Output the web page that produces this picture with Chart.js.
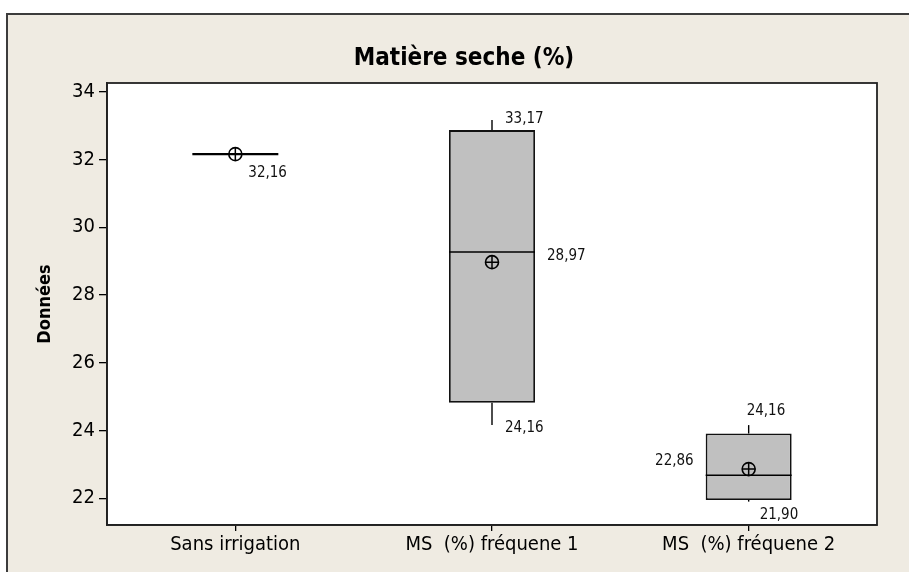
<!DOCTYPE html>
<html>
<head>
<meta charset="utf-8">
<script src="https://cdn.jsdelivr.net/npm/chart.js@4.4.1/dist/chart.umd.min.js"></script>
<style>
  html, body { margin: 0; padding: 0; background: #ffffff; }
  #wrap { width: 909px; height: 572px; }
</style>
</head>
<body>
<div id="wrap"><canvas id="chart" width="909" height="572"></canvas></div>
<script>
// Box plot summary per group (percent dry matter)
const categories = ['Sans irrigation', 'MS  (%) fréquene 1', 'MS  (%) fréquene 2'];
const minValues    = [32.16, 24.16, 21.90];
const q1Values     = [32.16, 24.82, 21.95];
const medianValues = [32.16, 29.27, 22.68];
const q3Values     = [32.16, 32.87, 23.91];
const maxValues    = [32.16, 33.17, 24.16];
const meanValues   = [32.16, 28.97, 22.86];
const yTicks = [22, 24, 26, 28, 30, 32, 34];
const yMin = 21.21;
const yMax = 34.26;

const FAMILY = '"DejaVu Sans Condensed", "DejaVu Sans", sans-serif';
const fmt = v => v.toFixed(2).replace('.', ',');

// Which summary values get a printed label, and where it sits relative to the mark
const labelSpecs = [
  { i: 0, values: meanValues, anchor: 'center',   dx: 13,  dy: 17,  align: 'left'  },
  { i: 1, values: maxValues,  anchor: 'center',   dx: 13,  dy: -2,  align: 'left'  },
  { i: 1, values: meanValues, anchor: 'boxRight', dx: 12,  dy: -8,  align: 'left'  },
  { i: 1, values: minValues,  anchor: 'center',   dx: 13,  dy: 1,   align: 'left'  },
  { i: 2, values: maxValues,  anchor: 'center',   dx: -2,  dy: -16, align: 'left'  },
  { i: 2, values: meanValues, anchor: 'boxLeft',  dx: -12, dy: -10, align: 'right' },
  { i: 2, values: minValues,  anchor: 'center',   dx: 11,  dy: 12,  align: 'left'  }
];

const BOX_DATASET = 2;

// Beige panel, outer frame and title
const framePlugin = {
  id: 'frame',
  beforeDraw(chart) {
    const ctx = chart.ctx, a = chart.chartArea;
    ctx.save();
    ctx.fillStyle = '#ffffff';
    ctx.fillRect(0, 0, chart.width, chart.height);
    ctx.fillStyle = '#EFEBE2';
    ctx.fillRect(7, 14, chart.width - 7, chart.height - 14);
    ctx.strokeStyle = '#3c3c3c';
    ctx.lineWidth = 2;
    ctx.beginPath();
    ctx.moveTo(7, chart.height);
    ctx.lineTo(7, 14);
    ctx.lineTo(chart.width, 14);
    ctx.stroke();
    ctx.fillStyle = '#ffffff';
    ctx.fillRect(a.left, a.top, a.right - a.left, a.bottom - a.top);
    ctx.fillStyle = '#000000';
    ctx.font = 'bold 24px ' + FAMILY;
    ctx.textAlign = 'center';
    ctx.textBaseline = 'alphabetic';
    ctx.fillText('Matière seche (%)', 464, 65);
    ctx.restore();
  },
  afterDraw(chart) {
    const ctx = chart.ctx, a = chart.chartArea;
    ctx.save();
    ctx.strokeStyle = '#222222';
    ctx.lineWidth = 1.8;
    ctx.strokeRect(a.left, a.top, a.right - a.left, a.bottom - a.top);
    ctx.restore();
  }
};

// Whiskers, medians and value labels
const boxPartsPlugin = {
  id: 'boxParts',
  afterDatasetsDraw(chart) {
    const ctx = chart.ctx, xs = chart.scales.x, ys = chart.scales.y;
    const bars = chart.getDatasetMeta(BOX_DATASET).data;
    const seg = (x1, y1, x2, y2) => { ctx.beginPath(); ctx.moveTo(x1, y1); ctx.lineTo(x2, y2); ctx.stroke(); };
    ctx.save();
    ctx.strokeStyle = '#000000';
    categories.forEach((c, i) => {
      const cx = xs.getPixelForValue(i);
      const half = bars[i].width / 2;
      ctx.lineWidth = 1.4;
      seg(cx, ys.getPixelForValue(q3Values[i]), cx, ys.getPixelForValue(maxValues[i]));
      seg(cx, ys.getPixelForValue(q1Values[i]), cx, ys.getPixelForValue(minValues[i]));
      ctx.lineWidth = q1Values[i] === q3Values[i] ? 2.4 : 1.6;
      const my = ys.getPixelForValue(medianValues[i]);
      seg(cx - half, my, cx + half, my);
    });
    ctx.fillStyle = '#111111';
    ctx.font = '15px ' + FAMILY;
    ctx.textBaseline = 'alphabetic';
    labelSpecs.forEach(s => {
      const cx = xs.getPixelForValue(s.i);
      const half = bars[s.i].width / 2;
      let ax = cx;
      if (s.anchor === 'boxRight') ax = cx + half;
      if (s.anchor === 'boxLeft') ax = cx - half;
      const v = s.values[s.i];
      const py = ys.getPixelForValue(v);
      ctx.textAlign = s.align;
      ctx.fillText(fmt(v), ax + s.dx, py + s.dy + 5.5);
    });
    ctx.restore();
  }
};

new Chart(document.getElementById('chart'), {
  type: 'bar',
  data: {
    labels: categories,
    datasets: [
      {
        type: 'line',
        label: 'Moyenne',
        data: meanValues,
        showLine: false,
        pointStyle: 'cross',
        pointRadius: 6.5,
        pointBorderWidth: 1.5,
        pointBorderColor: '#000000',
        order: 0
      },
      {
        type: 'line',
        label: 'Moyenne cercle',
        data: meanValues,
        showLine: false,
        pointStyle: 'circle',
        pointRadius: 6.5,
        pointBorderWidth: 1.6,
        pointBorderColor: '#000000',
        pointBackgroundColor: 'rgba(0,0,0,0)',
        order: 1
      },
      {
        label: 'Boîte',
        data: categories.map((c, i) => [q1Values[i], q3Values[i]]),
        backgroundColor: '#C0C0C0',
        borderColor: '#111111',
        borderWidth: 1.8,
        borderSkipped: false,
        barPercentage: 0.335,
        categoryPercentage: 1,
        order: 2
      }
    ]
  },
  options: {
    responsive: false,
    animation: false,
    devicePixelRatio: 1,
    layout: { padding: { top: 83, right: 32, bottom: 0, left: 0 } },
    plugins: {
      legend: { display: false },
      tooltip: { enabled: false },
      title: { display: false }
    },
    scales: {
      x: {
        type: 'category',
        offset: true,
        grid: { offset: false, drawOnChartArea: false, drawTicks: true, tickLength: 6, color: '#000000', lineWidth: 1.3 },
        border: { display: true, color: '#222222', width: 1.8 },
        ticks: { color: '#000000', font: { family: FAMILY, size: 20 }, padding: 2, maxRotation: 0 },
        afterFit(s) { s.height = 47; }
      },
      y: {
        type: 'linear',
        min: yMin,
        max: yMax,
        afterBuildTicks(s) { s.ticks = yTicks.map(v => ({ value: v })); },
        grid: { drawOnChartArea: false, drawTicks: true, tickLength: 8, color: '#000000', lineWidth: 1.3 },
        border: { display: true, color: '#222222', width: 1.8 },
        ticks: { color: '#000000', font: { family: FAMILY, size: 20 }, padding: 4 },
        title: { display: true, text: 'Données', color: '#000000', font: { family: FAMILY, size: 18, weight: 'bold' }, padding: { top: 35, bottom: 0 } },
        afterFit(s) { s.width = 107; }
      }
    }
  },
  plugins: [framePlugin, boxPartsPlugin]
});
</script>
</body>
</html>
